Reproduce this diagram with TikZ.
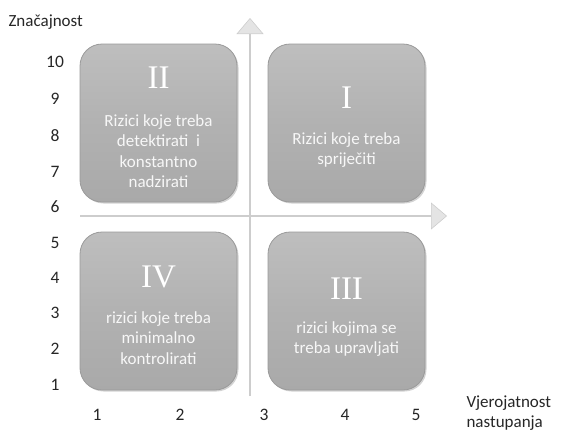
\documentclass[tikz,border=0pt]{standalone}
\usepackage{fontspec}
\setmainfont{Carlito}
\newfontfamily\romanfont{Liberation Serif}
\usepackage{tikz}
\usetikzlibrary{arrows.meta}
\usetikzlibrary{shadows}
\usetikzlibrary{positioning}

\definecolor{boxgray}{HTML}{A9A9A9}
\definecolor{boxlight}{HTML}{BEBEBE}
\definecolor{boxline}{HTML}{9A9A9A}
\definecolor{axisgray}{HTML}{CDCDCD}
\definecolor{tipgray}{HTML}{E4E4E4}
\definecolor{labelgray}{HTML}{262626}

\begin{document}
\begin{tikzpicture}[x=1pt, y=-1pt,
  quadrant/.style={draw=boxline, line width=0.8pt, rounded corners=22pt,
    top color=boxlight, bottom color=boxgray, middle color=boxgray!90!white,
    minimum width=157pt, minimum height=158pt, inner sep=0pt,
    drop shadow={shadow xshift=1.5pt, shadow yshift=-1.5pt, opacity=0.35}},
  numeral/.style={text=white, font=\romanfont\fontsize{33}{33}\selectfont},
  risktext/.style={text=white!97!black, align=center,
    font=\fontsize{17}{20.5}\selectfont},
  axis/.style={draw=axisgray, line width=2pt,
    -{Triangle[width=27pt, length=16pt, fill=tipgray, line width=0.6pt]}},
  tick/.style={text=labelgray, font=\fontsize{17.5}{17.5}\selectfont},
  axislabel/.style={text=labelgray, font=\fontsize{17}{20}\selectfont, align=left}]

  \useasboundingbox (0,0) rectangle (566,432);

  % axes
  \coordinate (ybot) at (250,396);
  \coordinate (ytop) at (250,18);
  \coordinate (xleft) at (80,216);
  \coordinate (xright) at (447,216);
  \draw[axis] (xleft) -- (xright);
  \draw[axis] (ybot) -- (ytop);

  % quadrants
  \node[quadrant] (q2) at (158.5,123) {};
  \node[quadrant] (q1) at (346.5,123) {};
  \node[quadrant] (q4) at (158.5,311) {};
  \node[quadrant] (q3) at (346.5,311) {};

  \node[numeral]  (n2) at (158.5,78) {II};
  \node[risktext] (t2) at (158.5,151) {Rizici koje treba\\detektirati\ \ i\\konstantno\\nadzirati};
  \node[numeral]  (n1) at (346.5,98) {I};
  \node[risktext] (t1) at (346.5,150) {Rizici koje treba\\sprije\v{c}iti};
  \node[numeral]  (n4) at (158.5,277) {IV};
  \node[risktext] (t4) at (158.5,338) {rizici koje treba\\minimalno\\kontrolirati};
  \node[numeral]  (n3) at (346.5,289) {III};
  \node[risktext] (t3) at (346.5,339) {rizici kojima se\\treba upravljati};

  % scale values
  \foreach \v/\yy in {10/62, 9/99, 8/136, 7/172, 6/207, 5/243, 4/278, 3/313, 2/349, 1/385}
    \node[tick] (y\v) at (55,\yy) {\v};
  \foreach \v/\xx in {1/97, 2/180, 3/264, 4/345, 5/416}
    \node[tick] (x\v) at (\xx,415) {\v};

  % axis names
  \node[axislabel, anchor=west] (ylab) at (5,22) {Zna\v{c}ajnost};
  \node[axislabel, anchor=west] (xlab) at (463,413) {Vjerojatnost\\nastupanja};
\end{tikzpicture}
\end{document}
